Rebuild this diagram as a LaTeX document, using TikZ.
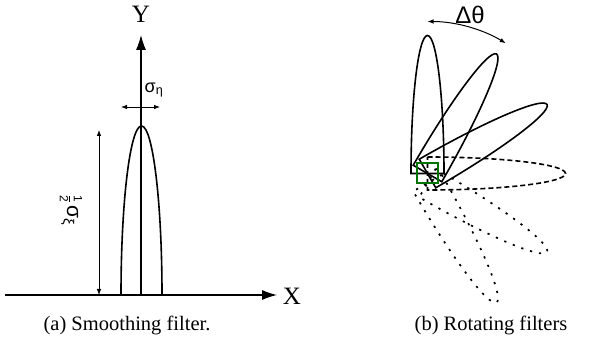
\documentclass[tikz,border=0pt]{standalone}
\usepackage{fontspec}
\setmainfont{Liberation Serif}
\newfontfamily\gk{Liberation Sans}
\usetikzlibrary{arrows.meta}
\begin{document}
\begin{tikzpicture}[x=1pt,y=-1pt,
  filt/.style={line width=1.6pt},
  dashf/.style={line width=1.6pt,dash pattern=on 5pt off 3pt},
  dotf/.style={line width=1.7pt,dash pattern=on 2.2pt off 7pt},
  axis/.style={line width=1.1pt,-{Latex[length=15pt,width=10pt]}},
  dim/.style={line width=0.8pt,{Latex[length=6pt,width=4.5pt]}-{Latex[length=6pt,width=4.5pt]}},
  big/.style={inner sep=0pt,font=\fontsize{25}{25}\selectfont},
  captext/.style={inner sep=0pt,font=\fontsize{20.5}{22}\selectfont},
  grk/.style={inner sep=0pt,font=\gk\fontsize{18}{18}\selectfont}]
\useasboundingbox (0,0) rectangle (589,347);
% ---------- left panel ----------
\coordinate (xs) at (5,295);
\coordinate (xe) at (277,295);
\coordinate (o) at (141,295);
\coordinate (ye) at (141,35);
\draw[filt] (121,295) arc[start angle=180,end angle=360,x radius=20.5,y radius=169] -- cycle;
\draw[axis] (xs) -- (xe);
\draw[axis] (o) -- (ye);
\node[big] (xl) at (292,296) {X};
\node[big] (yl) at (141,14) {Y};
\coordinate (sa) at (121,107);
\coordinate (sb) at (160,107);
\draw[dim] (sa) -- (sb);
\node[grk] (sl) at (154,90) {σ\textsubscript{η}};
\coordinate (da) at (99,295);
\coordinate (db) at (99,130);
\draw[dim] (da) -- (db);
\node[inner sep=0pt,rotate=-90] (dl) at (71,210)
  {$\displaystyle{\hbox{\gk\fontsize{12}{12}\selectfont 1}\over\hbox{\gk\fontsize{12}{12}\selectfont 2}}$\,{\gk\fontsize{21}{21}\selectfont σ\textsubscript{ξ}}};
\node[captext] (ca) at (127,325) {(a) Smoothing filter.};
% ---------- right panel ----------
\coordinate (p) at (427.5,173.5);
\coordinate (q) at (427.5,183);
\foreach \a in {0,30,60}{
  \begin{scope}[shift={(p)},rotate=-\a]
    \draw[filt] (-16.5,0) arc[start angle=180,end angle=360,x radius=16.5,y radius=138] -- cycle;
  \end{scope}}
\begin{scope}[shift={(p)},rotate=-90]
  \draw[dashf] (-16.5,0) arc[start angle=180,end angle=360,x radius=16.5,y radius=138] -- cycle;
\end{scope}
\foreach \a in {120,150}{
  \begin{scope}[shift={(q)},rotate=-\a]
    \draw[dotf] (-16.5,0) arc[start angle=180,end angle=360,x radius=16.5,y radius=138] -- cycle;
  \end{scope}}
\draw[green!45!black,line width=1.1pt] (417,163) rectangle (438,183);
\draw[dim,line width=1pt] ([shift={(270:152)}]p) arc[start angle=270,end angle=301,radius=152];
\node[grk,font=\gk\fontsize{24}{24}\selectfont] (dt) at (470,15) {Δθ};
\node[captext] (cb) at (491,325) {(b) Rotating filters};
\end{tikzpicture}
\end{document}
